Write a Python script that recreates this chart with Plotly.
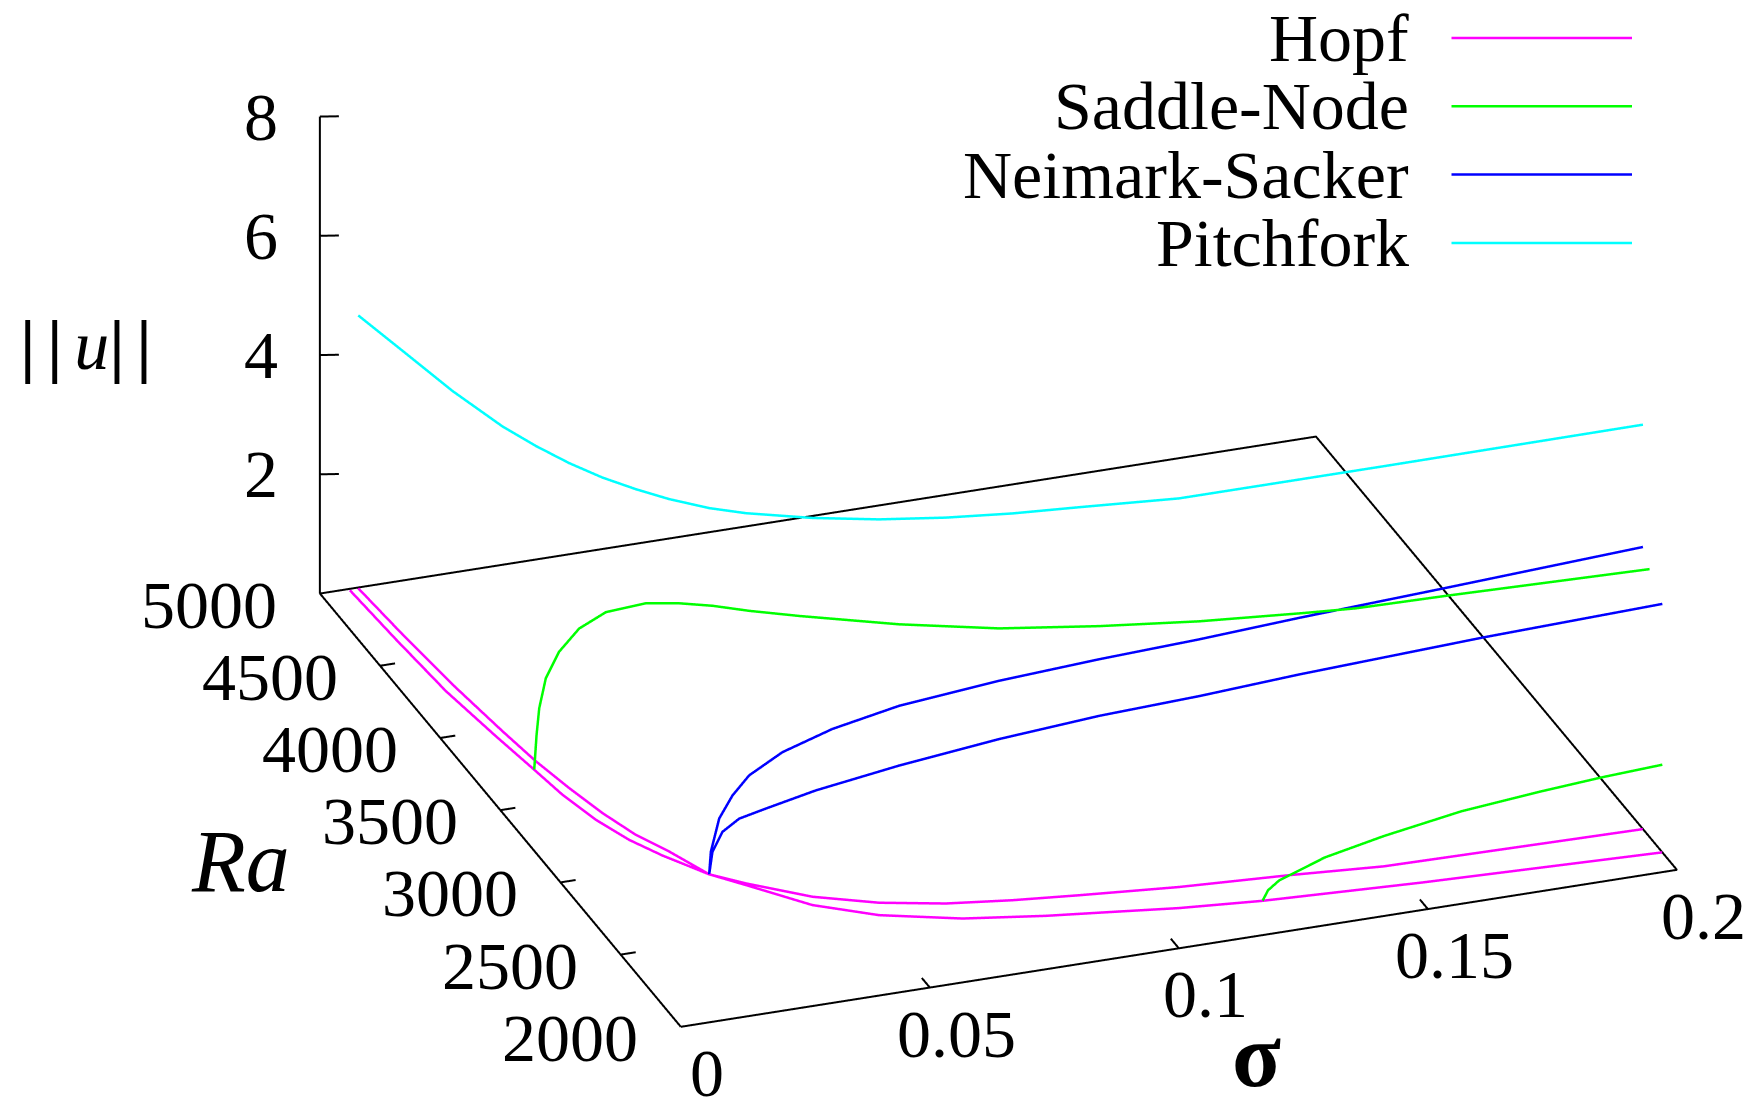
import plotly.graph_objects as go

# ---------------- data ----------------
sigma_range = [0.0, 0.2]
ra_range = [2000, 5000]
norm_range = [0, 8]

sigma_ticks = [0, 0.05, 0.1, 0.15, 0.2]
sigma_tick_labels = ["0", "0.05", "0.1", "0.15", "0.2"]
ra_ticks = [2000, 2500, 3000, 3500, 4000, 4500, 5000]
ra_tick_labels = ["2000", "2500", "3000", "3500", "4000", "4500", "5000"]
norm_ticks = [2, 4, 6, 8]
norm_tick_labels = ["2", "4", "6", "8"]

# Hopf curves (||u|| = 0)
hopf1_sigma = [0.00758, 0.00862, 0.01009, 0.01205, 0.01353, 0.01548, 0.01769, 0.0204, 0.02385, 0.02758,
               0.03276, 0.0426, 0.05354, 0.06527, 0.07757, 0.09014, 0.10913, 0.13053, 0.1485, 0.2]
hopf1_ra = [4995, 4670, 4315, 3981, 3765, 3569, 3384, 3218, 3084, 2906,
            2815, 2669, 2568, 2499, 2455, 2421, 2375, 2341, 2304, 2282]
hopf1_norm = [0.0] * len(hopf1_sigma)

hopf2_sigma = [0.00581, 0.00671, 0.00794, 0.01014, 0.01199, 0.0133, 0.01553, 0.01847, 0.02207, 0.02758,
               0.0325, 0.04136, 0.0517, 0.066, 0.08119, 0.09359, 0.10602, 0.12188, 0.1530, 0.2]
hopf2_ra = [4991, 4646, 4281, 3957, 3715, 3535, 3349, 3194, 3066, 2906,
            2805, 2618, 2492, 2391, 2327, 2287, 2246, 2210, 2168, 2121]
hopf2_norm = [0.0] * len(hopf2_sigma)

# Pitchfork
pf_sigma = hopf1_sigma
pf_ra = hopf1_ra
pf_norm = [4.577, 4.757, 4.923, 5.112, 5.289, 5.450, 5.627, 5.798, 5.911, 6.142,
           6.209, 6.353, 6.430, 6.472, 6.487, 6.508, 6.518, 6.610, 6.711, 6.783]

# Saddle-Node (two branches)
sn1_sigma = [0.01199, 0.01210, 0.01222, 0.01253, 0.01315, 0.01442, 0.01641, 0.02027, 0.02404, 0.02802,
             0.03294, 0.03959, 0.05514, 0.07268, 0.09111, 0.10983, 0.13021, 0.14011, 0.15762, 0.19751]
sn1_ra = [3715, 3700, 3683, 3641, 3556, 3442, 3302, 3130, 3009, 2897,
          2796, 2655, 2468, 2363, 2295, 2237, 2199, 2185, 2163, 2124]
sn1_norm = [0.0, 0.619, 1.105, 1.706, 2.349, 2.997, 3.585, 4.100, 4.343, 4.520,
            4.615, 4.783, 4.891, 4.846, 4.806, 4.781, 4.746, 4.727, 4.759, 4.776]

sn2_sigma = [0.12188, 0.12294, 0.12512, 0.12717, 0.13401, 0.14543, 0.16067, 0.17603, 0.18831, 0.2]
sn2_ra = [2210, 2209, 2206, 2203, 2194, 2178, 2160, 2145, 2133, 2121]
sn2_norm = [0.0, 0.164, 0.309, 0.378, 0.607, 0.853, 1.114, 1.276, 1.386, 1.470]

# Neimark-Sacker (two branches)
ns1_sigma = [0.02758, 0.02782, 0.02899, 0.03087, 0.03325, 0.03817, 0.04588, 0.05706, 0.07511, 0.09394,
             0.11300, 0.13231, 0.16016, 0.2]
ns1_ra = [2906, 2902, 2881, 2848, 2808, 2735, 2639, 2547, 2464, 2412, 2369, 2337, 2299, 2282]
ns1_norm = [0.0, 0.386, 0.978, 1.421, 1.823, 2.324, 2.844, 3.308, 3.691, 3.930, 4.117, 4.301, 4.517, 4.732]

ns2_sigma = [0.02758, 0.02802, 0.02936, 0.03160, 0.03516, 0.04189, 0.05514, 0.07268, 0.09111, 0.10983,
             0.12898, 0.16490, 0.2]
ns2_ra = [2906, 2897, 2869, 2823, 2749, 2612, 2468, 2363, 2295, 2237, 2200, 2156, 2121]
ns2_norm = [0.0, 0.396, 0.779, 1.082, 1.383, 1.931, 2.522, 2.990, 3.301, 3.527, 3.727, 3.982, 4.167]

series_names = ["Hopf", "Saddle-Node", "Neimark-Sacker", "Pitchfork"]
series_colors = ["#ff00ff", "#00ff00", "#0000ff", "#00ffff"]

# ---------------- styling constants ----------------
FONT = "Liberation Serif"
TICK_FONT = 68
CURVE_W = 5
AXIS_W = 4
PAD = 0.001  # tiny range padding so edges lying on the range limits are not clipped

fig = go.Figure()


def add_line(xs, ys, zs, color, width):
    fig.add_trace(go.Scatter3d(x=xs, y=ys, z=zs, mode="lines",
                               line=dict(color=color, width=width),
                               hoverinfo="skip", showlegend=False))


def padded(rng):
    span = rng[1] - rng[0]
    return [rng[0] - PAD * span, rng[1] + PAD * span]


s0, s1 = sigma_range
r0, r1 = ra_range
z0, z1 = norm_range

# base box and vertical axis
add_line([s0, s1, s1, s0, s0], [r0, r0, r1, r1, r0], [z0] * 5, "black", AXIS_W)
add_line([s0, s0], [r1, r1], [z0, z1], "black", AXIS_W)

# tick marks (lengths as fractions of the axis spans)
ds_tick = 0.0151 * (s1 - s0)
dr_tick = 0.0222 * (r1 - r0)
tx, ty, tz = [], [], []
for s in sigma_ticks[1:-1]:
    tx += [s, s, None]; ty += [r0, r0 + dr_tick, None]; tz += [z0, z0, None]
for r in ra_ticks[1:-1]:
    tx += [s0, s0 + ds_tick, None]; ty += [r, r, None]; tz += [z0, z0, None]
for zt in norm_ticks:
    tx += [s0, s0 + 1.13 * ds_tick, None]; ty += [r1, r1 - 0.00549 * (r1 - r0), None]; tz += [zt, zt, None]
add_line(tx, ty, tz, "black", AXIS_W)

# curves
add_line(hopf1_sigma, hopf1_ra, hopf1_norm, series_colors[0], CURVE_W)
add_line(hopf2_sigma, hopf2_ra, hopf2_norm, series_colors[0], CURVE_W)
add_line(sn1_sigma, sn1_ra, sn1_norm, series_colors[1], CURVE_W)
add_line(sn2_sigma, sn2_ra, sn2_norm, series_colors[1], CURVE_W)
add_line(ns1_sigma, ns1_ra, ns1_norm, series_colors[2], CURVE_W)
add_line(ns2_sigma, ns2_ra, ns2_norm, series_colors[2], CURVE_W)
add_line(pf_sigma, pf_ra, pf_norm, series_colors[3], CURVE_W)

# tick labels as scene annotations
tick_font = dict(family=FONT, size=TICK_FONT, color="black")
scene_ann = []
for s, lab in zip(sigma_ticks, sigma_tick_labels):
    scene_ann.append(dict(x=s, y=r0, z=z0, text=lab, showarrow=False, xanchor="center",
                          yanchor="middle", xshift=27, yshift=-46, font=tick_font))
for r, lab in zip(ra_ticks, ra_tick_labels):
    scene_ann.append(dict(x=s0, y=r, z=z0, text=lab, showarrow=False, xanchor="right",
                          yanchor="middle", xshift=-40, yshift=-11, font=tick_font))
for zt, lab in zip(norm_ticks, norm_tick_labels):
    scene_ann.append(dict(x=s0, y=r1, z=zt, text=lab, showarrow=False, xanchor="right",
                          yanchor="middle", xshift=-39, yshift=0, font=tick_font))

# camera (orthographic, gnuplot-like view); centre shifted to place the box
center = dict(x=-0.00093, y=-0.05385, z=-0.10535)
eye = dict(x=-0.6145, y=-1.7473, z=0.7647)
k = 1 + 2 * PAD

fig.update_layout(
    width=1754, height=1099,
    margin=dict(l=0, r=0, t=0, b=0),
    paper_bgcolor="white", plot_bgcolor="white",
    showlegend=False,
    font=dict(family=FONT, color="black"),
    scene=dict(
        domain=dict(x=[0.14, 1.0], y=[0.0, 1.0]),
        xaxis=dict(visible=False, range=padded(sigma_range)),
        yaxis=dict(visible=False, range=padded(ra_range)),
        zaxis=dict(visible=False, range=padded(norm_range)),
        aspectmode="manual",
        aspectratio=dict(x=1.928 * k, y=1.928 * k, z=0.964 * k),
        camera=dict(eye=eye, up=dict(x=0, y=0, z=1), center=center,
                    projection=dict(type="orthographic")),
        bgcolor="white",
        annotations=scene_ann,
    ),
)

# axis titles
bar = "<b>|</b>"
sp = "\u2006"
fig.add_annotation(x=78 / 1754, y=0.6929, xref="paper", yref="paper", showarrow=False,
                   text=bar + sp + bar + sp + "<i>u</i>" + bar + sp + bar,
                   font=dict(family=FONT, size=70),
                   xanchor="center", yanchor="middle")
fig.add_annotation(x=0.1323, y=0.2238, xref="paper", yref="paper", showarrow=False,
                   text="<i>Ra</i>", font=dict(family=FONT, size=88),
                   xanchor="center", yanchor="middle")
fig.add_annotation(x=0.7119, y=0.0473, xref="paper", yref="paper", showarrow=False,
                   text="<b>σ</b>", font=dict(family=FONT, size=90),
                   xanchor="center", yanchor="middle")

# legend (gnuplot style: text right-aligned, sample line to the right)
legend_y = [0.9727, 0.9106, 0.8484, 0.7862]
for name, col, ly in zip(series_names, series_colors, legend_y):
    fig.add_annotation(x=1402.5 / 1754, y=ly, xref="paper", yref="paper", showarrow=False,
                       text=name, font=dict(family=FONT, size=68),
                       xanchor="right", yanchor="middle")
    fig.add_shape(type="line", xref="paper", yref="paper", x0=1443.5 / 1754, x1=1624 / 1754,
                  y0=ly, y1=ly, line=dict(color=col, width=2.5))

fig.write_html("out.html", config={"displayModeBar": False})
